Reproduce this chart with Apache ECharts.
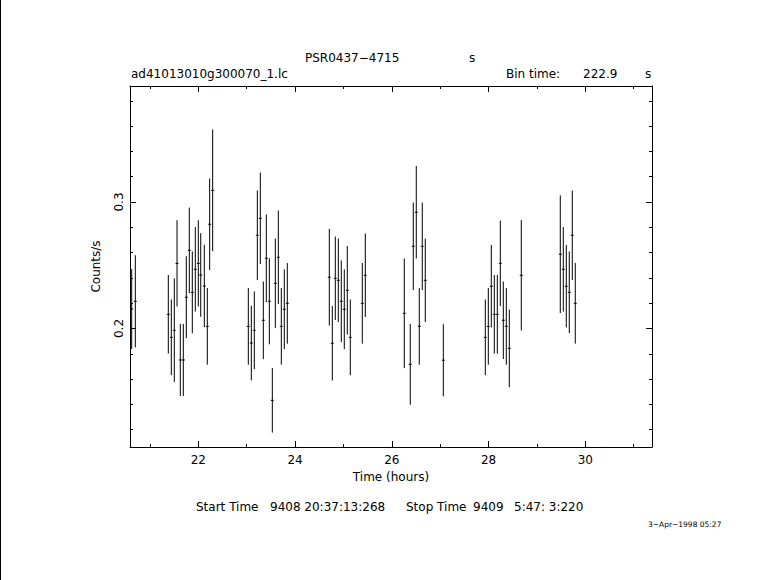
<!DOCTYPE html>
<html>
<head>
<meta charset="utf-8">
<script src="https://cdn.jsdelivr.net/npm/echarts@6/dist/echarts.min.js"></script>
<style>
html,body{margin:0;padding:0;background:#fff;}
#chart{width:781px;height:580px;}
</style>
</head>
<body>
<div id="chart"></div>
<script>
// ---- data ----
const binTimeSec = 222.9;
const timeHours = [
  20.623, 20.698,
  21.380, 21.442, 21.504, 21.560, 21.628, 21.690, 21.752, 21.814, 21.876, 21.938, 22.000, 22.050, 22.124, 22.186, 22.235, 22.297,
  23.034, 23.096, 23.158, 23.220, 23.282, 23.344, 23.406, 23.468, 23.530, 23.592, 23.654, 23.716, 23.778, 23.840,
  24.708, 24.770, 24.832, 24.894, 24.956, 25.018, 25.080, 25.142, 25.390, 25.452,
  26.258, 26.382, 26.444, 26.506, 26.568, 26.630, 26.692, 27.065,
  27.933, 27.995, 28.057, 28.119, 28.181, 28.243, 28.305, 28.367, 28.429, 28.677,
  29.483, 29.545, 29.607, 29.669, 29.731, 29.793
];
const countRate = [
  0.2154, 0.2215,
  0.2112, 0.1930, 0.1986, 0.2515, 0.1751, 0.1751, 0.2247, 0.2618, 0.2286, 0.2468, 0.2515, 0.2423, 0.2336, 0.2017, 0.2824, 0.3092,
  0.2017, 0.1885, 0.1986, 0.2737, 0.2871, 0.2065, 0.2555, 0.2215, 0.1432, 0.2357, 0.2563, 0.2017, 0.2152, 0.2199,
  0.2405, 0.1883, 0.2397, 0.2381, 0.2215, 0.2152, 0.2302, 0.1930, 0.2199, 0.2421,
  0.2120, 0.1717, 0.2650, 0.2919, 0.2017, 0.2650, 0.2381, 0.1749,
  0.1930, 0.2017, 0.2334, 0.2112, 0.2112, 0.2515, 0.2065, 0.2017, 0.1843, 0.2421,
  0.2587, 0.2468, 0.2334, 0.2286, 0.2737, 0.2199
];
const countErr = [
  0.0316, 0.0364,
  0.0311, 0.0299, 0.0410, 0.0341, 0.0285, 0.0285, 0.0324, 0.0338, 0.0323, 0.0334, 0.0341, 0.0330, 0.0326, 0.0303, 0.0362, 0.0481,
  0.0303, 0.0295, 0.0307, 0.0354, 0.0362, 0.0307, 0.0346, 0.0340, 0.0255, 0.0354, 0.0370, 0.0303, 0.0315, 0.0319,
  0.0382, 0.0294, 0.0330, 0.0330, 0.0323, 0.0315, 0.0350, 0.0299, 0.0319, 0.0330,
  0.0433, 0.0320, 0.0346, 0.0366, 0.0303, 0.0346, 0.0330, 0.0285,
  0.0299, 0.0303, 0.0326, 0.0311, 0.0311, 0.0338, 0.0307, 0.0303, 0.0307, 0.0437,
  0.0465, 0.0334, 0.0326, 0.0323, 0.0354, 0.0319
];
const xMajorTicks = [22, 24, 26, 28, 30];
const xMinorTicks = [21, 23, 25, 27, 29, 31];
const yMajorTicks = [0.2, 0.3];
const yMinorTicks = [0.12, 0.14, 0.16, 0.18, 0.22, 0.24, 0.26, 0.28, 0.32, 0.34, 0.36, 0.38];

// ---- layout ----
const X_MIN = 20.588, X_MAX = 31.379;
const Y_MIN = 0.10632, Y_MAX = 0.39170;
const FONT = 'DejaVu Sans';
const halfBin = binTimeSec / 3600 / 2;

const points = timeHours.map((t, i) => [t, countRate[i], countErr[i]]);

const lineStyle = { color: '#000', width: 1 };

function xAxisDef(pos, ticks, len, withLabel, withLine) {
  return {
    type: 'value', position: pos, min: X_MIN, max: X_MAX,
    splitLine: { show: false },
    axisLine: { show: withLine, onZero: false, lineStyle },
    axisTick: { show: true, inside: true, length: len, customValues: ticks, lineStyle },
    axisLabel: withLabel ? {
      show: true, customValues: ticks, color: '#000', fontFamily: FONT, fontSize: 12, margin: 7,
      formatter: v => String(Math.round(v))
    } : { show: false },
    name: withLabel ? 'Time (hours)' : '',
    nameLocation: 'middle', nameGap: 21,
    nameTextStyle: { color: '#000', fontFamily: FONT, fontSize: 12 }
  };
}
function yAxisDef(pos, ticks, len, withLabel, withLine) {
  return {
    type: 'value', position: pos, min: Y_MIN, max: Y_MAX,
    splitLine: { show: false },
    axisLine: { show: withLine, onZero: false, lineStyle },
    axisTick: { show: true, inside: true, length: len, customValues: ticks, lineStyle },
    axisLabel: withLabel ? {
      show: true, customValues: ticks, color: '#000', fontFamily: FONT, fontSize: 12, margin: 5,
      rotate: 90, formatter: v => v.toFixed(1)
    } : { show: false },
    name: withLabel ? 'Counts/s' : '',
    nameLocation: 'middle', nameGap: 28, nameRotate: 90,
    nameTextStyle: { color: '#000', fontFamily: FONT, fontSize: 12 }
  };
}

const chart = echarts.init(document.getElementById('chart'), null, { renderer: 'svg' });
const txt = (x, y, text, extra) => ({
  type: 'text', left: x, top: y,
  style: Object.assign({ text, fill: '#000', font: '12px "' + FONT + '"' }, extra || {})
});

chart.setOption({
  backgroundColor: '#fff',
  animation: false,
  grid: { left: 130, right: 129, top: 86, bottom: 133, containLabel: false },
  xAxis: [
    xAxisDef('bottom', xMajorTicks, 6, true, true),
    xAxisDef('bottom', xMinorTicks, 3, false, false),
    xAxisDef('top', xMajorTicks, 6, false, true),
    xAxisDef('top', xMinorTicks, 3, false, false)
  ],
  yAxis: [
    yAxisDef('left', yMajorTicks, 6, true, true),
    yAxisDef('left', yMinorTicks, 3, false, false),
    yAxisDef('right', yMajorTicks, 6, false, true),
    yAxisDef('right', yMinorTicks, 3, false, false)
  ],
  graphic: [
    { type: 'rect', shape: { x: 0, y: 0, width: 1, height: 580 }, style: { fill: '#000' } },
    txt(305, 52, 'PSR0437\u22124715'),
    txt(469, 52, 's'),
    txt(131, 68, 'ad41013010g300070_1.lc'),
    txt(506, 68, 'Bin time:'),
    txt(583, 68, '222.9'),
    txt(645, 68, 's'),
    txt(196, 501, 'Start Time'),
    txt(270, 501, '9408 20:37:13:268'),
    txt(406, 501, 'Stop Time'),
    txt(473, 501, '9409'),
    txt(514, 501, '5:47: 3:220'),
    txt(648, 520, '3\u2212Apr\u22121998 05:27', { font: '7.5px "' + FONT + '"' })
  ],
  series: [{
    type: 'custom',
    xAxisIndex: 0, yAxisIndex: 0,
    data: points,
    clip: true,
    renderItem: function (params, api) {
      const t = api.value(0), v = api.value(1), e = api.value(2);
      const top = api.coord([t, v + e]);
      const bot = api.coord([t, v - e]);
      const l = api.coord([t - halfBin, v]);
      const r = api.coord([t + halfBin, v]);
      return {
        type: 'group',
        children: [
          { type: 'line', shape: { x1: top[0], y1: top[1], x2: bot[0], y2: bot[1] }, style: { stroke: '#000', lineWidth: 1 } },
          { type: 'line', shape: { x1: l[0], y1: l[1], x2: r[0], y2: r[1] }, style: { stroke: '#000', lineWidth: 1 } }
        ]
      };
    }
  }]
});
</script>
</body>
</html>
